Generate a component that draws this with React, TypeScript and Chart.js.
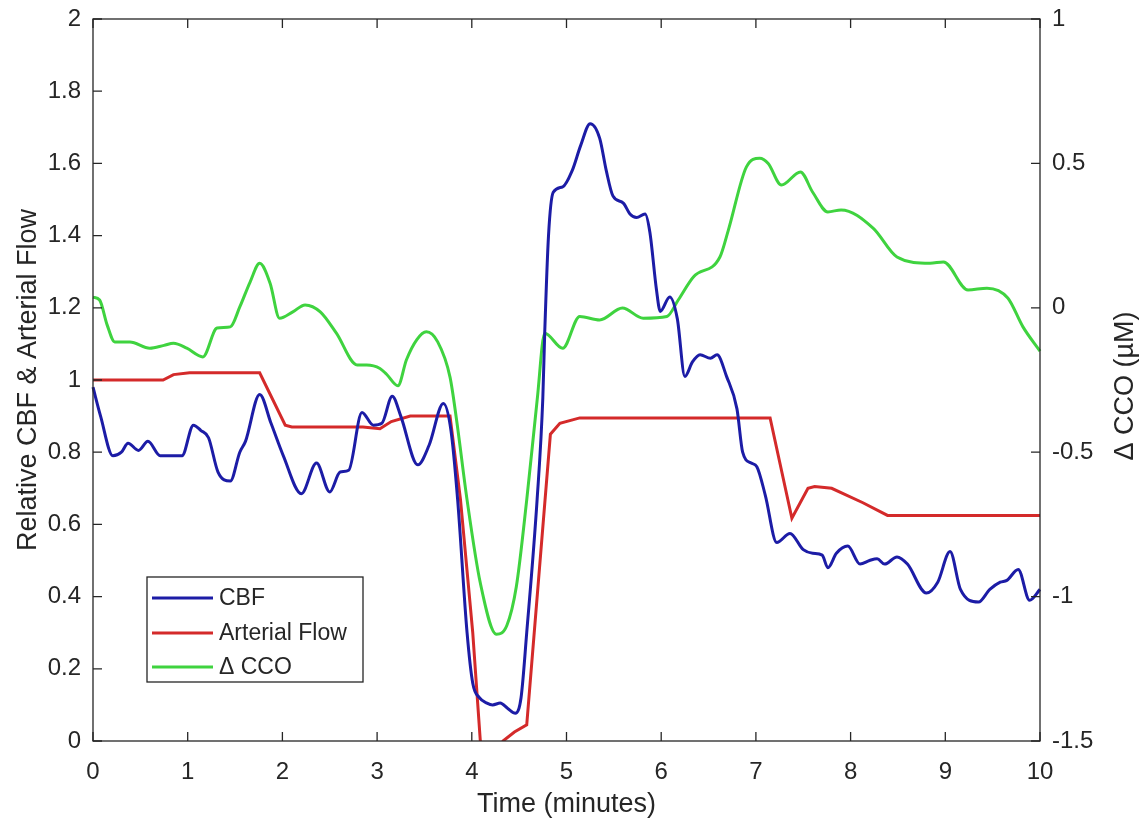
import React, { useEffect, useRef } from "react";
import { Chart, registerables } from "chart.js";

Chart.register(...registerables);

const FONT = 'Arial, "Liberation Sans", Helvetica, sans-serif';

// ---- data ----
const cbfTime = [
  0.0, 0.08, 0.21, 0.3, 0.37, 0.48, 0.58, 0.71, 0.94, 1.06, 1.14, 1.22, 1.32, 1.45, 1.55, 1.61,
  1.76, 1.88, 2.01, 2.2, 2.36, 2.5, 2.61, 2.7, 2.84, 2.96, 3.05, 3.16, 3.25, 3.43, 3.55, 3.7,
  3.78, 3.85, 3.95, 4.01, 4.08, 4.16, 4.22, 4.3, 4.38, 4.46, 4.52, 4.58, 4.69, 4.75, 4.77, 4.81,
  4.86, 4.96, 5.06, 5.15, 5.25, 5.35, 5.42, 5.49, 5.6, 5.67, 5.74, 5.83, 5.88, 5.95, 5.99, 6.09,
  6.17, 6.25, 6.33, 6.41, 6.52, 6.59, 6.69, 6.8, 6.86, 6.95, 7.01, 7.1, 7.22, 7.36, 7.5, 7.6,
  7.7, 7.76, 7.85, 7.97, 8.1, 8.2, 8.28, 8.36, 8.49, 8.6, 8.8, 8.92, 9.05, 9.16, 9.35, 9.47,
  9.58, 9.65, 9.77, 9.89, 10.0,
];
const cbfValue = [
  0.98, 0.9, 0.79, 0.8, 0.825, 0.805, 0.83, 0.79, 0.79, 0.875, 0.86, 0.84, 0.745, 0.72, 0.8, 0.83,
  0.96, 0.88, 0.79, 0.685, 0.77, 0.69, 0.745, 0.75, 0.91, 0.875, 0.88, 0.955, 0.9, 0.765, 0.82, 0.935,
  0.86, 0.67, 0.3, 0.16, 0.12, 0.105, 0.1, 0.105, 0.09, 0.077, 0.12, 0.3, 0.67, 0.95, 1.13, 1.4,
  1.52, 1.535, 1.58, 1.65, 1.71, 1.67, 1.58, 1.51, 1.49, 1.46, 1.45, 1.46, 1.41, 1.25, 1.19, 1.23,
  1.17, 1.01, 1.05, 1.07, 1.06, 1.07, 1.01, 0.92, 0.8, 0.77, 0.76, 0.68, 0.55, 0.575, 0.53, 0.52,
  0.515, 0.48, 0.52, 0.54, 0.49, 0.5, 0.505, 0.49, 0.51, 0.49, 0.41, 0.44, 0.525, 0.42, 0.385, 0.42,
  0.44, 0.445, 0.475, 0.39, 0.42,
];

const arterialTime = [
  0, 0.74, 0.85, 1.02, 1.76, 2.03, 2.1, 2.85, 3.03, 3.15, 3.35, 3.77, 3.88, 4.01, 4.09, 4.15,
  4.28, 4.33, 4.45, 4.58, 4.83, 4.93, 5.14, 7.15, 7.38, 7.55, 7.62, 7.8, 8.13, 8.39, 10.0,
];
const arterialValue = [
  1.0, 1.0, 1.015, 1.02, 1.02, 0.875, 0.87, 0.87, 0.865, 0.885, 0.9, 0.9, 0.67, 0.3, 0.0, -0.03,
  -0.03, 0.0, 0.025, 0.045, 0.85, 0.88, 0.895, 0.895, 0.617, 0.7, 0.705, 0.7, 0.66, 0.625, 0.625,
];

const ccoTime = [
  0, 0.07, 0.15, 0.23, 0.39, 0.6, 0.75, 0.85, 0.99, 1.16, 1.31, 1.45, 1.55, 1.66, 1.76, 1.87,
  1.97, 2.11, 2.24, 2.4, 2.57, 2.79, 2.89, 3.03, 3.1, 3.22, 3.31, 3.42, 3.52, 3.64, 3.77, 3.84,
  3.95, 4.09, 4.26, 4.37, 4.47, 4.58, 4.69, 4.77, 4.96, 5.14, 5.35, 5.59, 5.81, 6.06, 6.18, 6.34,
  6.62, 6.71, 6.9, 7.04, 7.13, 7.27, 7.47, 7.6, 7.76, 7.9, 8.24, 8.49, 8.84, 8.98, 9.24, 9.44,
  9.66, 9.82, 10.0,
];
const ccoValue = [
  0.037, 0.027, -0.06, -0.118, -0.118, -0.14, -0.13, -0.123, -0.14, -0.17, -0.07, -0.066, 0.003, 0.09, 0.154, 0.085,
  -0.036, -0.014, 0.01, -0.014, -0.088, -0.198, -0.198, -0.21, -0.23, -0.27, -0.18, -0.11, -0.083, -0.118, -0.24, -0.39,
  -0.665, -0.953, -1.13, -1.1, -0.966, -0.665, -0.32, -0.088, -0.14, -0.03, -0.042, -0.001, -0.036, -0.03, 0.027, 0.107,
  0.176, 0.27, 0.488, 0.518, 0.5, 0.425, 0.47, 0.4, 0.332, 0.339, 0.275, 0.176, 0.154, 0.159, 0.062, 0.068,
  0.034, -0.066, -0.15,
];

const seriesLabels = ["CBF", "Arterial Flow", "\u0394 CCO"];
const seriesColors = ["#1c1ca6", "#d42a2a", "#3fd33f"];
const xTitle = "Time (minutes)";
const yLeftTitle = "Relative CBF & Arterial Flow";
const yRightTitle = "\u0394 CCO (\u00b5M)";

const toPoints = (xs: number[], ys: number[]) => xs.map((x, i) => ({ x, y: ys[i] }));
const fmt = (v: number) => String(Math.round(v * 10) / 10);

const framePlugin = {
  id: "matlabFrame",
  afterDatasetsDraw(chart: any) {
    const { ctx, chartArea: a, scales } = chart;
    ctx.save();
    ctx.strokeStyle = "#262626";
    ctx.lineWidth = 1.3;
    ctx.strokeRect(a.left, a.top, a.right - a.left, a.bottom - a.top);
    const L = 9;
    ctx.beginPath();
    scales.x.ticks.forEach((t: any) => {
      const px = scales.x.getPixelForValue(t.value);
      ctx.moveTo(px, a.bottom);
      ctx.lineTo(px, a.bottom - L);
      ctx.moveTo(px, a.top);
      ctx.lineTo(px, a.top + L);
    });
    scales.y.ticks.forEach((t: any) => {
      const py = scales.y.getPixelForValue(t.value);
      ctx.moveTo(a.left, py);
      ctx.lineTo(a.left + L, py);
    });
    scales.y1.ticks.forEach((t: any) => {
      const py = scales.y1.getPixelForValue(t.value);
      ctx.moveTo(a.right, py);
      ctx.lineTo(a.right - L, py);
    });
    ctx.stroke();
    ctx.restore();
  },
  afterDraw(chart: any) {
    const { ctx, chartArea: a } = chart;
    ctx.save();
    ctx.fillStyle = "#262626";
    // axis titles
    ctx.font = `27px ${FONT}`;
    ctx.textAlign = "center";
    ctx.textBaseline = "alphabetic";
    ctx.fillText(xTitle, (a.left + a.right) / 2, 812);
    ctx.save();
    ctx.translate(36, (a.top + a.bottom) / 2);
    ctx.rotate(-Math.PI / 2);
    ctx.fillText(yLeftTitle, 0, 0);
    ctx.restore();
    ctx.save();
    ctx.translate(1133, 386);
    ctx.rotate(-Math.PI / 2);
    ctx.fillText(yRightTitle, 0, 0);
    ctx.restore();

    // legend box
    const bx = 147, by = 577, bw = 216, bh = 105;
    ctx.fillStyle = "#ffffff";
    ctx.fillRect(bx, by, bw, bh);
    ctx.strokeStyle = "#262626";
    ctx.lineWidth = 1.3;
    ctx.strokeRect(bx, by, bw, bh);
    const rows = [598, 633, 667];
    ctx.font = `23px ${FONT}`;
    ctx.textAlign = "left";
    ctx.textBaseline = "middle";
    chart.data.datasets.forEach((ds: any, i: number) => {
      ctx.strokeStyle = ds.borderColor;
      ctx.lineWidth = 3;
      ctx.beginPath();
      ctx.moveTo(152, rows[i]);
      ctx.lineTo(213, rows[i]);
      ctx.stroke();
      ctx.fillStyle = "#262626";
      ctx.fillText(ds.label, 219, rows[i] + 1);
    });
    ctx.restore();
  },
};

export default function App() {
  const canvasRef = useRef<HTMLCanvasElement | null>(null);

  useEffect(() => {
    if (!canvasRef.current) return;
    const tickFont = { family: FONT, size: 24 };
    const chart = new Chart(canvasRef.current, {
      type: "line",
      data: {
        datasets: [
          {
            label: seriesLabels[0],
            data: toPoints(cbfTime, cbfValue),
            borderColor: seriesColors[0],
            borderWidth: 3,
            pointRadius: 0,
            cubicInterpolationMode: "monotone",
            yAxisID: "y",
            clip: { left: 2, right: 2, top: 2, bottom: 0 },
          },
          {
            label: seriesLabels[1],
            data: toPoints(arterialTime, arterialValue),
            borderColor: seriesColors[1],
            borderWidth: 3,
            pointRadius: 0,
            tension: 0,
            yAxisID: "y",
            clip: { left: 2, right: 2, top: 2, bottom: 0 },
          },
          {
            label: seriesLabels[2],
            data: toPoints(ccoTime, ccoValue),
            borderColor: seriesColors[2],
            borderWidth: 3,
            pointRadius: 0,
            cubicInterpolationMode: "monotone",
            yAxisID: "y1",
            clip: { left: 2, right: 2, top: 2, bottom: 0 },
          },
        ],
      },
      options: {
        animation: false,
        responsive: true,
        maintainAspectRatio: false,
        layout: { padding: { top: 19, left: 0, right: 0, bottom: 0 } },
        plugins: { legend: { display: false }, tooltip: { enabled: false } },
        scales: {
          x: {
            type: "linear",
            min: 0,
            max: 10,
            grid: { display: false },
            border: { display: false },
            ticks: { stepSize: 1, font: tickFont, color: "#262626", padding: 9, maxRotation: 0, callback: (v: any) => fmt(Number(v)) },
            afterFit: (s: any) => { s.height = 84; },
          },
          y: {
            type: "linear",
            position: "left",
            min: 0,
            max: 2,
            grid: { display: false },
            border: { display: false },
            ticks: { stepSize: 0.2, font: tickFont, color: "#262626", padding: 4, callback: (v: any) => fmt(Number(v)) },
            afterFit: (s: any) => { s.width = 93; },
          },
          y1: {
            type: "linear",
            position: "right",
            min: -1.5,
            max: 1,
            grid: { display: false },
            border: { display: false },
            ticks: { stepSize: 0.5, font: tickFont, color: "#262626", padding: 4, callback: (v: any) => fmt(Number(v)) },
            afterFit: (s: any) => { s.width = 103; },
          },
        },
      },
      plugins: [framePlugin],
    } as any);
    return () => chart.destroy();
  }, []);

  return (
    <div style={{ position: "fixed", left: 0, top: 0, width: 1143, height: 825, background: "#ffffff" }}>
      <canvas ref={canvasRef} />
    </div>
  );
}
